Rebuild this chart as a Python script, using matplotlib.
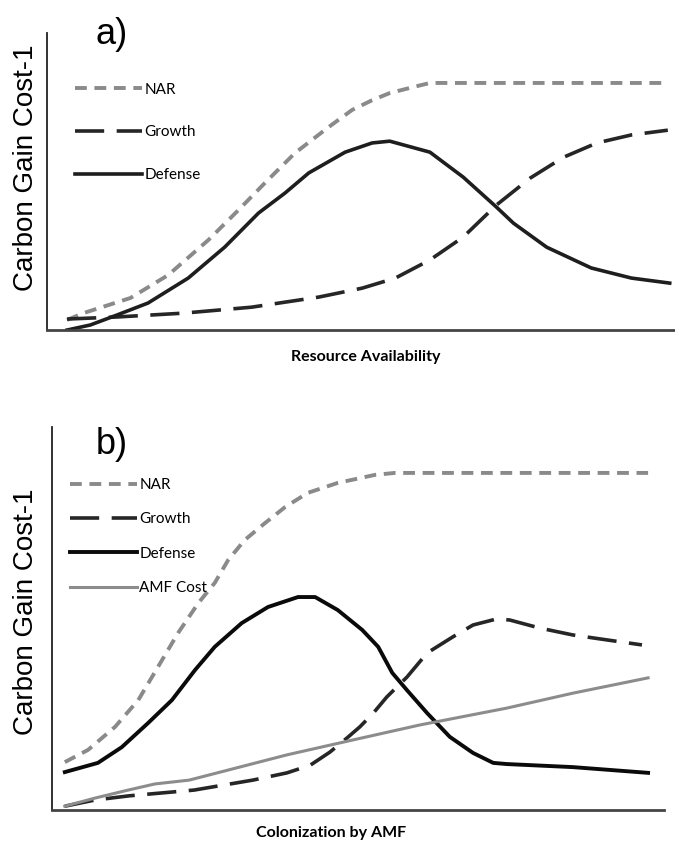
import matplotlib
matplotlib.use('Agg')
import matplotlib.pyplot as plt

plt.rcParams['lines.scale_dashes'] = False

# panel a: resource availability (x 0-100, y 0-100)
a_def_x = [3.2, 6.9, 11.2, 16.1, 22.5, 28.3, 33.7, 37.9, 41.7, 47.5, 51.8, 54.6, 61.0, 66.3, 71.6, 74.3, 79.6, 86.7, 93.1, 99.2]
a_def_y = [0, 1.7, 5.1, 9.1, 17.5, 27.9, 39.4, 46.1, 52.9, 59.9, 63.0, 63.6, 59.9, 51.5, 41.4, 36.0, 27.9, 20.9, 17.5, 15.8]
a_nar_x = [3.2, 5.8, 13.3, 19.3, 25.7, 30.5, 34.7, 39.5, 44.9, 48.6, 51.8, 54.6, 58.3, 61.0, 98.0]
a_nar_y = [3.4, 5.7, 10.8, 18.5, 30.3, 40.4, 49.5, 59.6, 68.4, 74.1, 77.4, 79.8, 81.8, 83.2, 83.2]
a_gro_x = [3.2, 11.2, 21.8, 32.6, 43.3, 50.2, 55.5, 61.0, 66.3, 71.6, 77.0, 82.3, 87.6, 93.1, 98.9]
a_gro_y = [3.7, 4.4, 5.7, 7.7, 11.1, 14.1, 17.5, 23.6, 31.3, 42.1, 51.2, 58.2, 63.0, 65.7, 67.3]

# panel b: colonization by AMF
b_def_x = [2.1, 7.5, 11.4, 15.7, 19.6, 23.4, 26.6, 31.0, 35.3, 40.2, 43.0, 46.7, 50.7, 53.3, 55.6, 58.0, 61.3, 65.0, 68.8, 72.1, 74.3, 85.1, 97.4]
b_def_y = [9.9, 12.3, 16.4, 22.7, 28.7, 36.6, 42.6, 48.8, 53.0, 55.6, 55.6, 52.2, 47.0, 42.6, 35.8, 31.3, 25.3, 19.1, 14.9, 12.3, 12.0, 11.2, 9.7]
b_nar_x = [2.1, 5.9, 10.3, 14.1, 17.3, 20.6, 23.9, 26.6, 28.8, 31.5, 34.8, 38.1, 41.8, 46.7, 52.8, 56.0, 97.4]
b_nar_y = [12.5, 15.7, 21.7, 28.7, 37.3, 46.2, 54.0, 59.3, 65.3, 70.5, 74.9, 79.1, 82.8, 85.4, 87.5, 88.0, 88.0]
b_gro_x = [2.1, 7.0, 12.6, 23.2, 32.8, 38.4, 42.2, 45.4, 48.2, 50.3, 52.5, 54.7, 58.0, 61.3, 65.5, 68.8, 72.7, 74.8, 79.7, 85.1, 90.7, 96.4]
b_gro_y = [1.0, 2.6, 3.7, 5.2, 7.8, 9.7, 11.7, 15.1, 18.8, 21.7, 25.3, 29.5, 34.7, 41.0, 45.2, 48.3, 49.9, 49.6, 47.5, 45.7, 44.4, 43.1]
b_amf_x = [2.1, 7.0, 11.9, 16.8, 22.4, 27.5, 38.4, 49.2, 60.1, 74.3, 85.1, 97.4]
b_amf_y = [1.0, 3.1, 5.0, 6.8, 7.8, 9.9, 14.4, 18.3, 22.2, 26.6, 30.5, 34.5]

fig = plt.figure(figsize=(6.75, 8.48), dpi=100)
ax1 = fig.add_axes([0.0696, 0.6108, 0.93, 0.3502])
ax2 = fig.add_axes([0.077, 0.0448, 0.9067, 0.4517])

nar_style = dict(color='#8a8a8a', lw=2.8, dashes=(8.5, 5.5))
gro_style = dict(color='#262626', lw=2.6, dashes=(21, 9))

ax1.plot(a_nar_x, a_nar_y, label='NAR', **nar_style)
ax1.plot(a_gro_x, a_gro_y, label='Growth', **gro_style)
ax1.plot(a_def_x, a_def_y, label='Defense', color='#1e1e1e', lw=2.6)

ax2.plot(b_nar_x, b_nar_y, label='NAR', **nar_style)
ax2.plot(b_gro_x, b_gro_y, label='Growth', **gro_style)
ax2.plot(b_def_x, b_def_y, label='Defense', color='#0a0a0a', lw=2.8)
ax2.plot(b_amf_x, b_amf_y, label='AMF Cost', color='#8c8c8c', lw=2.2)

for ax in (ax1, ax2):
    ax.set_xlim(0, 100)
    ax.set_ylim(0, 100)
    ax.set_xticks([])
    ax.set_yticks([])
    ax.spines['top'].set_visible(False)
    ax.spines['right'].set_visible(False)
    ax.spines['left'].set_color('#222222')
    ax.spines['left'].set_linewidth(1.3)
    ax.spines['bottom'].set_color('#444444')
    ax.spines['bottom'].set_linewidth(2.0)
    ax.set_ylabel('Carbon Gain Cost-1', fontsize=20, family='Liberation Sans')

ax1.yaxis.set_label_coords(-0.013, 0.545)
ax2.yaxis.set_label_coords(-0.022, 0.517)

ax1.legend(loc='upper left', bbox_to_anchor=(0.045, 0.833), frameon=False,
           borderpad=0, borderaxespad=0, handlelength=4.4, handletextpad=0.15,
           labelspacing=1.88, prop={'family': 'Lato', 'size': 11})
ax2.legend(loc='upper left', bbox_to_anchor=(0.029, 0.867), frameon=False,
           borderpad=0, borderaxespad=0, handlelength=4.4, handletextpad=0.15,
           labelspacing=1.33, prop={'family': 'Lato', 'size': 11})

fig.text(366 / 675, 1 - 357 / 848, 'Resource Availability', ha='center', va='center',
         fontsize=11.5, fontweight='bold', family='Lato')
fig.text(331 / 675, 1 - 833 / 848, 'Colonization by AMF', ha='center', va='center',
         fontsize=11.5, fontweight='bold', family='Lato')
fig.text(112 / 675, 1 - 34 / 848, 'a)', ha='center', va='center', fontsize=26, family='Liberation Sans')
fig.text(112 / 675, 1 - 445 / 848, 'b)', ha='center', va='center', fontsize=26, family='Liberation Sans')

fig.savefig('out.png', dpi=100)
